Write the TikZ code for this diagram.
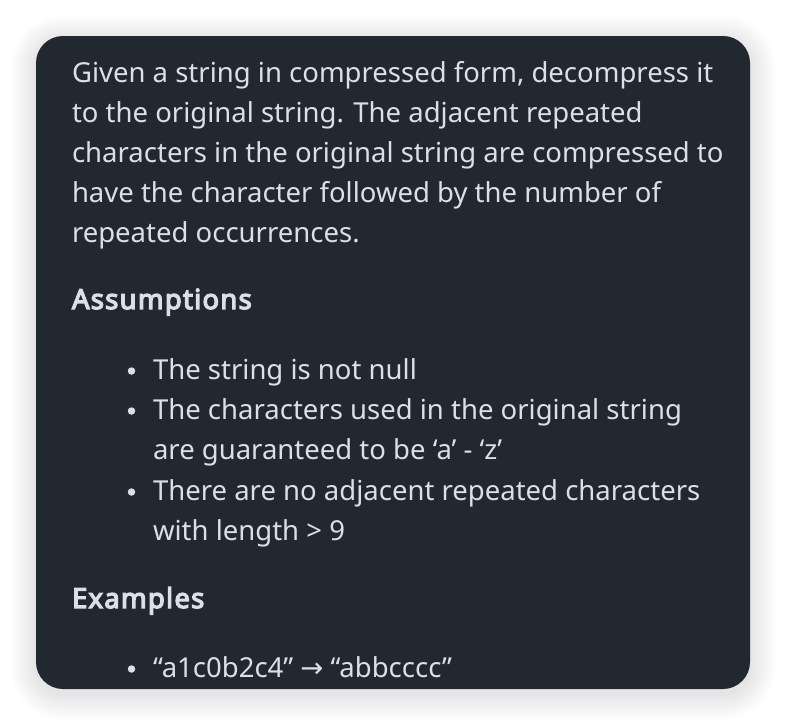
\documentclass[tikz,border=0pt]{standalone}
\usepackage{fontspec}
\setmainfont{Noto Sans}
\newfontfamily\headfont{Noto Sans}[FakeBold=4.6, LetterSpace=4.5]
\newfontfamily\arrowfont{DejaVu Sans}
\definecolor{cardbg}{HTML}{212830}
\definecolor{cardfg}{HTML}{DAE0E7}
\tikzset{
  txt/.style={anchor=base west, inner sep=0pt, outer sep=0pt, text=cardfg,
    font=\fontsize{27.5}{40}\selectfont},
  head/.style={txt, font=\fontsize{27.5}{40}\headfont},
  dot/.style={circle, fill=cardfg, inner sep=0pt, minimum size=7.5pt}
}
\begin{document}
\begin{tikzpicture}[x=1pt,y=-1pt]
\useasboundingbox (0,0) rectangle (786,726);
\fill[white] (0,0) rectangle (786,726);
\foreach \i in {1,...,26}{
  \fill[black, fill opacity=0.0042, rounded corners={27pt+\i pt}]
    (36-\i,36-\i+5) rectangle (750+\i,689+\i+5);
}
\fill[cardbg, rounded corners=27pt] (36,36) rectangle (750,689);
\node[txt] (p1) at (72,82) {Given a string in compressed form, decompress it};
\node[txt] (p2) at (72,122) {to the original string. The adjacent repeated};
\node[txt] (p3) at (72,162) {characters in the original string are compressed to};
\node[txt] (p4) at (72,202) {have the character followed by the number of};
\node[txt] (p5) at (72,242) {repeated occurrences.};
\node[head] (h1) at (72,309) {Assumptions};
\node[dot] (d1) at (131.5,371) {};
\node[txt] (a1) at (153,379) {The string is not null};
\node[dot] (d2) at (131.5,411) {};
\node[txt] (a2) at (153,419) {The characters used in the original string};
\node[txt] (a3) at (153,459) {are guaranteed to be ‘a’ - ‘z’};
\node[dot] (d3) at (131.5,492) {};
\node[txt] (a4) at (153,500) {There are no adjacent repeated characters};
\node[txt] (a5) at (153,540) {with length > 9};
\node[head] (h2) at (72,608) {Examples};
\node[dot] (d4) at (131.5,669) {};
\node[txt] (e1) at (153,677) {“a1c0b2c4” {\arrowfont →} “abbcccc”};
\end{tikzpicture}
\end{document}
